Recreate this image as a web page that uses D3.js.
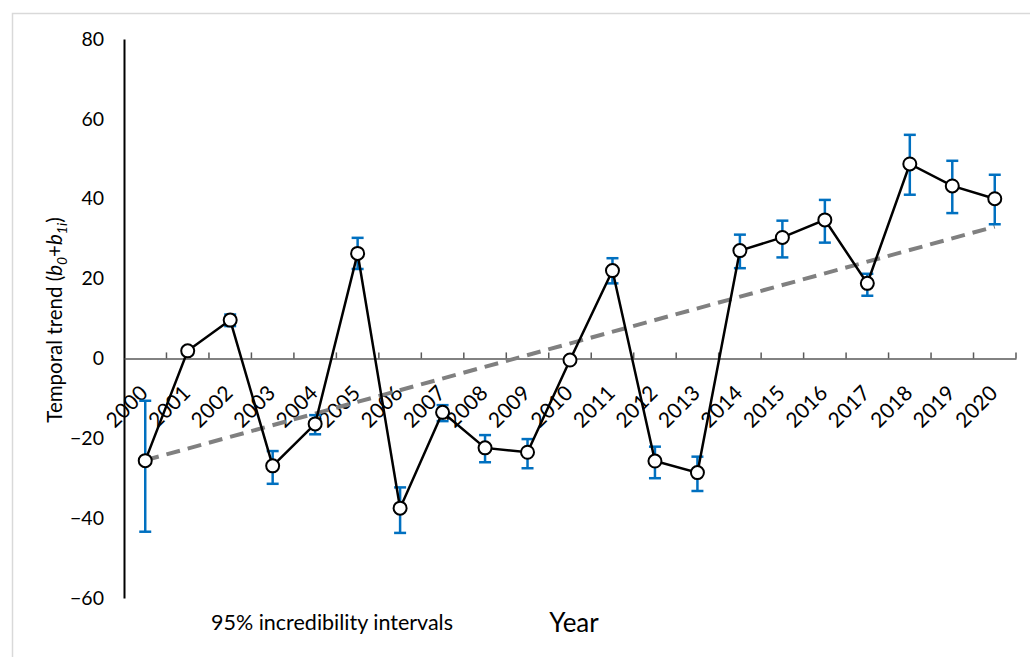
<!DOCTYPE html>
<html><head><meta charset="utf-8">
<script src="https://cdn.jsdelivr.net/npm/d3@7"></script>
<style>body{margin:0;background:#fff}svg{display:block}text{font-family:Lato,"Open Sans",sans-serif}</style>
</head><body><svg id="c" width="1030" height="657"></svg>
<script>
const years = ["2000","2001","2002","2003","2004","2005","2006","2007","2008","2009","2010","2011","2012","2013","2014","2015","2016","2017","2018","2019","2020"];
const trend = [-25.6, 1.9, 9.6, -26.9, -16.4, 26.3, -37.5, -13.5, -22.4, -23.5, -0.4, 22.0, -25.7, -28.6, 27.0, 30.3, 34.7, 18.8, 48.7, 43.2, 40.0];
const lower = [-43.4, 1.0, 8.1, -31.4, -19.0, 22.4, -43.7, -15.7, -26.0, -27.5, -1.0, 18.8, -30.0, -33.2, 22.6, 25.3, 29.0, 15.7, 41.0, 36.4, 33.6];
const upper = [-10.6, 2.8, 11.0, -23.2, -14.2, 30.2, -32.3, -11.7, -19.2, -20.2, 0.2, 25.1, -22.1, -24.6, 31.0, 34.5, 39.7, 21.2, 56.0, 49.5, 46.0];
const fitYears = ["2000","2020"];
const fitValues = [-25.5, 33.0];
const yTicks = [80, 60, 40, 20, 0, -20, -40, -60];

const svg = d3.select("#c");
// frame
svg.append("path").attr("d","M12.5,657 V13.5 H1030").attr("fill","none").attr("stroke","#d9d9d9").attr("stroke-width",1.5);

const x = d3.scaleBand().domain(years).range([124, 1016]);
const y = d3.scaleLinear().domain([-60, 80]).range([598, 39]);
const cx = d => x(d) + x.bandwidth()/2;

// y axis
const ya = svg.append("g").attr("transform","translate(124,0)")
  .call(d3.axisLeft(y).tickValues(yTicks).tickSize(0).tickPadding(20).tickFormat(d => d < 0 ? "\u2212" + Math.abs(d) : d));
ya.select(".domain").attr("stroke","#000").attr("stroke-width",2);
ya.selectAll("text").attr("font-size",19.5).attr("fill","#000");

// x axis at y=0
const xa = svg.append("g").attr("transform",`translate(0,${y(0)})`)
  .call(d3.axisBottom(x).tickSize(0).tickFormat(""));
xa.select(".domain").attr("stroke","#595959").attr("stroke-width",1.5);
svg.append("g").selectAll("line").data(years.slice(1).concat(["end"])).join("line")
  .attr("x1", d => d==="end" ? 1016 : x(d)).attr("x2", d => d==="end" ? 1016 : x(d))
  .attr("y1", y(0)-6).attr("y2", y(0)).attr("stroke","#595959").attr("stroke-width",1.5);
svg.append("g").selectAll("text").data(years).join("text")
  .attr("transform", d => `translate(${cx(d)+4},${y(0)+36}) rotate(-45)`)
  .attr("text-anchor","end").attr("font-size",21).attr("fill","#000").text(d => d);

// fit line
svg.append("line")
  .attr("x1", cx(fitYears[0])).attr("y1", y(fitValues[0]))
  .attr("x2", cx(fitYears[1])).attr("y2", y(fitValues[1]))
  .attr("stroke","#808080").attr("stroke-width",4).attr("stroke-dasharray","14,8");

// error bars
const eb = svg.append("g").attr("stroke","#0070c0").attr("stroke-width",2.5);
years.forEach((yr,i) => {
  const c = cx(yr);
  eb.append("line").attr("x1",c).attr("x2",c).attr("y1",y(lower[i])).attr("y2",y(upper[i]));
  eb.append("line").attr("x1",c-6).attr("x2",c+6).attr("y1",y(lower[i])).attr("y2",y(lower[i]));
  eb.append("line").attr("x1",c-6).attr("x2",c+6).attr("y1",y(upper[i])).attr("y2",y(upper[i]));
});

// line
const line = d3.line().x((d,i) => cx(years[i])).y(d => y(d));
svg.append("path").datum(trend).attr("d", line).attr("fill","none").attr("stroke","#000").attr("stroke-width",2.5);
svg.append("g").selectAll("circle").data(trend).join("circle")
  .attr("cx",(d,i)=>cx(years[i])).attr("cy",d=>y(d)).attr("r",6.5)
  .attr("fill","#fff").attr("stroke","#000").attr("stroke-width",2);

// labels
const yl = svg.append("text").attr("transform","translate(62,320) rotate(-90)").attr("text-anchor","middle").attr("font-size",20.5).attr("fill","#000");
yl.append("tspan").text("Temporal trend (");
yl.append("tspan").attr("font-style","italic").text("b");
yl.append("tspan").attr("font-style","italic").attr("font-size",14).attr("dy",5).text("0");
yl.append("tspan").attr("dy",-5).text("+");
yl.append("tspan").attr("font-style","italic").text("b");
yl.append("tspan").attr("font-style","italic").attr("font-size",14).attr("dy",5).text("1i");
yl.append("tspan").attr("dy",-5).text(")");

svg.append("text").attr("x",574).attr("y",632).attr("text-anchor","middle").attr("font-size",26).attr("fill","#000").text("Year");
svg.append("text").attr("x",211).attr("y",630).attr("font-size",21.5).attr("fill","#000").text("95% incredibility intervals");
</script></body></html>
